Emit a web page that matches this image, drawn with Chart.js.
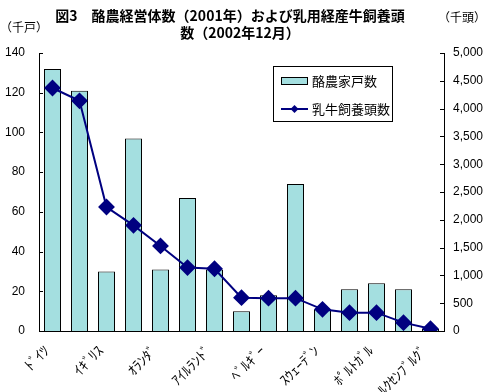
<!DOCTYPE html>
<html>
<head>
<meta charset="utf-8">
<script src="https://cdn.jsdelivr.net/npm/chart.js@4"></script>
<style>
  body { margin: 0; background: #fff; }
  #wrap { width: 492px; height: 392px; }
</style>
</head>
<body>
<div id="wrap"><canvas id="chart" width="492" height="392"></canvas></div>
<script>
// 国名（半角カナ、奇数番目はグラフ上では非表示）
var countries = ['ﾄﾞｲﾂ', 'ﾌﾗﾝｽ', 'ｲｷﾞﾘｽ', 'ｲﾀﾘｱ', 'ｵﾗﾝﾀﾞ', 'ｽﾍﾟｲﾝ', 'ｱｲﾙﾗﾝﾄﾞ', 'ﾃﾞﾝﾏｰｸ',
                 'ﾍﾞﾙｷﾞｰ', 'ｵｰｽﾄﾘｱ', 'ｽｳｪｰﾃﾞﾝ', 'ﾌｨﾝﾗﾝﾄﾞ', 'ﾎﾟﾙﾄｶﾞﾙ', 'ｷﾞﾘｼｬ', 'ﾙｸｾﾝﾌﾞﾙｸﾞ'];
// 酪農家戸数（千戸）
var farms = [132, 121, 30, 97, 31, 67, 31, 10, 18, 74, 11, 21, 24, 21, 1];
// 乳牛飼養頭数（千頭）
var cattle = [4370, 4140, 2230, 1900, 1530, 1140, 1120, 600, 590, 590, 390, 330, 330, 150, 40];

var titleLines = ['図3　酪農経営体数（2001年）および乳用経産牛飼養頭', '数（2002年12月）'];
var leftUnit = '（千戸）';
var rightUnit = '（千頭）';

var jpFont = '"Noto Sans CJK JP", sans-serif';

// タイトル・単位・凡例・内向き目盛りを描く
var extras = {
    id: 'extras',
    afterDraw: function(chart) {
        var ctx = chart.ctx;
        var area = chart.chartArea;
        ctx.save();
        ctx.fillStyle = '#000';
        ctx.textBaseline = 'middle';

        // タイトル
        ctx.font = 'bold 14px ' + jpFont;
        ctx.textAlign = 'center';
        ctx.fillText(titleLines[0], 230, 16);
        ctx.fillText(titleLines[1], 240, 33);

        // 単位
        ctx.font = '12px ' + jpFont;
        ctx.fillText(leftUnit, 24, 27);
        ctx.fillText(rightUnit, 462, 17);

        // 目盛り（内向き）
        ctx.strokeStyle = '#000';
        ctx.lineWidth = 1;
        var yl = chart.scales.y;
        var yr = chart.scales.y2;
        ctx.beginPath();
        yl.ticks.forEach(function(t, i) {
            var p = Math.round(yl.getPixelForTick(i)) + 0.5;
            ctx.moveTo(area.left, p);
            ctx.lineTo(area.left + 4, p);
        });
        yr.ticks.forEach(function(t, i) {
            var p = Math.round(yr.getPixelForTick(i)) + 0.5;
            ctx.moveTo(area.right - 4, p);
            ctx.lineTo(area.right, p);
        });
        ctx.stroke();

        // 凡例
        var ds = chart.data.datasets;
        var bx = 273.5, by = 66.5, bw = 119, bh = 55;
        ctx.fillStyle = '#fff';
        ctx.fillRect(bx, by, bw, bh);
        ctx.strokeRect(bx, by, bw, bh);

        ctx.fillStyle = ds[1].backgroundColor;
        ctx.fillRect(281.5, 77.5, 26, 7);
        ctx.strokeRect(281.5, 77.5, 26, 7);

        ctx.strokeStyle = ds[0].borderColor;
        ctx.lineWidth = 2;
        ctx.beginPath();
        ctx.moveTo(281, 109);
        ctx.lineTo(308, 109);
        ctx.stroke();
        ctx.fillStyle = ds[0].pointBackgroundColor;
        ctx.beginPath();
        ctx.moveTo(294.5, 105);
        ctx.lineTo(298.5, 109);
        ctx.lineTo(294.5, 113);
        ctx.lineTo(290.5, 109);
        ctx.closePath();
        ctx.fill();

        ctx.fillStyle = '#000';
        ctx.textAlign = 'left';
        ctx.font = '13px ' + jpFont;
        ctx.fillText(ds[1].label, 312, 81);
        ctx.fillText(ds[0].label, 312, 109);
        ctx.restore();
    }
};

Chart.defaults.font.family = '"Liberation Sans", Arial, sans-serif';
Chart.defaults.font.size = 12;
Chart.defaults.color = '#000';

var chart = new Chart(document.getElementById('chart'), {
    data: {
        labels: countries,
        datasets: [
            {
                type: 'line',
                label: '乳牛飼養頭数',
                data: cattle,
                yAxisID: 'y2',
                order: 0,
                borderColor: '#000080',
                borderWidth: 2,
                pointStyle: 'rectRot',
                pointRadius: 7,
                pointBackgroundColor: '#000080',
                pointBorderColor: '#000080',
                tension: 0
            },
            {
                type: 'bar',
                label: '酪農家戸数',
                data: farms,
                yAxisID: 'y',
                order: 1,
                backgroundColor: '#a4dfe0',
                borderColor: '#000',
                borderWidth: 1,
                categoryPercentage: 1,
                barPercentage: 0.63
            }
        ]
    },
    options: {
        responsive: false,
        animation: false,
        locale: 'en-US',
        layout: { padding: { top: 53, left: 0, right: 0, bottom: 0 } },
        plugins: {
            legend: { display: false },
            title: { display: false },
            tooltip: { enabled: false }
        },
        scales: {
            x: {
                offset: true,
                grid: { display: false, drawTicks: false },
                border: { display: true, color: '#000' },
                ticks: {
                    autoSkip: false,
                    minRotation: 45,
                    maxRotation: 45,
                    padding: 11,
                    labelOffset: -6,
                    font: { family: jpFont, size: 14 },
                    callback: function(v, i) { return i % 2 === 0 ? countries[i] : ''; }
                },
                afterFit: function(s) { s.height = 61; }
            },
            y: {
                position: 'left',
                min: 0,
                max: 140,
                grid: { display: false, drawTicks: false },
                border: { display: true, color: '#000' },
                ticks: { stepSize: 20, padding: 14 },
                afterFit: function(s) { s.width = 39; }
            },
            y2: {
                position: 'right',
                min: 0,
                max: 5000,
                grid: { display: false, drawTicks: false },
                border: { display: true, color: '#000' },
                ticks: { stepSize: 500, padding: 9 },
                afterFit: function(s) { s.width = 48; }
            }
        }
    },
    plugins: [extras]
});
</script>
</body>
</html>
